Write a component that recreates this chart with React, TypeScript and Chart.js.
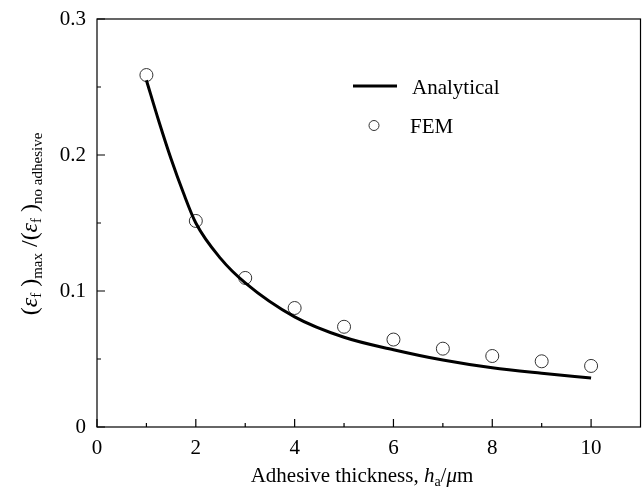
import React, { useEffect, useRef } from "react";
import { Chart, registerables } from "chart.js";

Chart.register(...registerables);

const analyticalX = [1, 1.25, 1.5, 1.75, 2, 2.5, 3, 4, 5, 6, 7, 8, 9, 10];
const analyticalY = [0.255, 0.225, 0.197, 0.172, 0.15, 0.124, 0.106, 0.081, 0.066, 0.0568, 0.0492, 0.0435, 0.0395, 0.036];
const femX = [1, 2, 3, 4, 5, 6, 7, 8, 9, 10];
const femY = [0.2588, 0.1515, 0.1096, 0.0875, 0.0737, 0.0643, 0.0576, 0.0522, 0.0483, 0.0449];
const xMajorTicks = [0, 2, 4, 6, 8, 10];
const xMinorTicks = [1, 3, 5, 7, 9];
const yMajorTicks = [0, 0.1, 0.2, 0.3];
const yMinorTicks = [0.05, 0.15, 0.25];
const legendLabels = ["Analytical", "FEM"];

const SERIF = "'Liberation Serif', 'DejaVu Serif', serif";

type Seg = { t: string; f: string; dy: number };

function drawRich(ctx: CanvasRenderingContext2D, segs: Seg[], x: number, y: number, center: boolean) {
  let total = 0;
  for (const s of segs) {
    ctx.font = s.f;
    total += ctx.measureText(s.t).width;
  }
  let cx = center ? x - total / 2 : x;
  for (const s of segs) {
    ctx.font = s.f;
    ctx.fillText(s.t, cx, y + s.dy);
    cx += ctx.measureText(s.t).width;
  }
}

const decorPlugin = {
  id: "decor",
  afterDraw(chart: any) {
    const ctx: CanvasRenderingContext2D = chart.ctx;
    const { left, right, top, bottom } = chart.chartArea;
    const xs = chart.scales.x;
    const ys = chart.scales.y;
    ctx.save();
    ctx.strokeStyle = "#000";
    ctx.fillStyle = "#000";
    ctx.lineWidth = 1.2;
    ctx.strokeRect(left, top, right - left, bottom - top);
    ctx.beginPath();
    for (const v of xMajorTicks) {
      const px = xs.getPixelForValue(v);
      ctx.moveTo(px, bottom);
      ctx.lineTo(px, bottom - 8);
    }
    for (const v of xMinorTicks) {
      const px = xs.getPixelForValue(v);
      ctx.moveTo(px, bottom);
      ctx.lineTo(px, bottom - 4);
    }
    for (const v of yMajorTicks) {
      const py = ys.getPixelForValue(v);
      ctx.moveTo(left, py);
      ctx.lineTo(left + 8, py);
    }
    for (const v of yMinorTicks) {
      const py = ys.getPixelForValue(v);
      ctx.moveTo(left, py);
      ctx.lineTo(left + 4, py);
    }
    ctx.stroke();

    // legend
    ctx.lineWidth = 3;
    ctx.beginPath();
    ctx.moveTo(353, 86);
    ctx.lineTo(397, 86);
    ctx.stroke();
    ctx.lineWidth = 1;
    ctx.strokeStyle = "#333";
    ctx.beginPath();
    ctx.arc(374, 125.5, 5, 0, Math.PI * 2);
    ctx.stroke();
    ctx.font = `21px ${SERIF}`;
    ctx.textBaseline = "alphabetic";
    ctx.textAlign = "left";
    ctx.fillText(legendLabels[0], 412, 93.5);
    ctx.fillText(legendLabels[1], 410, 133);

    // x title
    const xf = `21px ${SERIF}`;
    const xi = `italic 21px ${SERIF}`;
    const xsub = `14px ${SERIF}`;
    drawRich(
      ctx,
      [
        { t: "Adhesive thickness, ", f: xf, dy: 0 },
        { t: "h", f: xi, dy: 0 },
        { t: "a", f: xsub, dy: 4 },
        { t: "/", f: xf, dy: 0 },
        { t: "\u03bc", f: xi, dy: 0 },
        { t: "m", f: xf, dy: 0 },
      ],
      362,
      482,
      true
    );

    // y title
    const yf = `24px ${SERIF}`;
    const yi = `italic 24px ${SERIF}`;
    const ysub = `15px ${SERIF}`;
    ctx.translate(37, 224);
    ctx.rotate(-Math.PI / 2);
    drawRich(
      ctx,
      [
        { t: "(", f: yf, dy: 0 },
        { t: "\u03b5", f: yi, dy: 0 },
        { t: "f", f: ysub, dy: 4 },
        { t: " )", f: yf, dy: 0 },
        { t: "max", f: ysub, dy: 5 },
        { t: " /", f: yf, dy: 0 },
        { t: "(", f: yf, dy: 0 },
        { t: "\u03b5", f: yi, dy: 0 },
        { t: "f", f: ysub, dy: 4 },
        { t: " )", f: yf, dy: 0 },
        { t: "no adhesive", f: ysub, dy: 5 },
      ],
      0,
      0,
      true
    );
    ctx.restore();
  },
};

export default function App() {
  const ref = useRef<HTMLCanvasElement | null>(null);
  useEffect(() => {
    document.body.style.margin = "0";
    const canvas = ref.current;
    if (!canvas) return;
    const chart = new Chart(canvas, {
      type: "scatter",
      data: {
        datasets: [
          {
            type: "line",
            label: legendLabels[0],
            data: analyticalX.map((x, i) => ({ x, y: analyticalY[i] })),
            borderColor: "#000",
            borderWidth: 3,
            pointRadius: 0,
            fill: false,
            cubicInterpolationMode: "monotone",
          } as any,
          {
            type: "scatter",
            label: legendLabels[1],
            data: femX.map((x, i) => ({ x, y: femY[i] })),
            pointRadius: 6.5,
            pointStyle: "circle",
            backgroundColor: "rgba(255,255,255,0)",
            borderColor: "#333",
            pointBorderWidth: 1,
            borderWidth: 1,
          } as any,
        ],
      },
      options: {
        responsive: false,
        animation: false,
        devicePixelRatio: 1,
        layout: { autoPadding: false, padding: { top: 19, right: 1.5, left: 0, bottom: 0 } },
        plugins: { legend: { display: false }, tooltip: { enabled: false } },
        scales: {
          x: {
            type: "linear",
            min: 0,
            max: 11,
            grid: { display: false, drawTicks: false },
            border: { display: false },
            ticks: {
              stepSize: 2,
              color: "#000",
              padding: 9,
              font: { family: SERIF, size: 21 },
            },
            afterBuildTicks: (scale: any) => {
              scale.ticks = xMajorTicks.map((v) => ({ value: v }));
            },
            afterFit: (scale: any) => {
              scale.height = 62;
              scale.paddingLeft = 0;
              scale.paddingRight = 0;
            },
          },
          y: {
            type: "linear",
            min: 0,
            max: 0.3,
            grid: { display: false, drawTicks: false },
            border: { display: false },
            ticks: {
              stepSize: 0.1,
              color: "#000",
              padding: 11,
              font: { family: SERIF, size: 21 },
              callback: (v: any) => (Number(v) === 0 ? "0" : Number(v).toFixed(1)),
            },
            afterBuildTicks: (scale: any) => {
              scale.ticks = yMajorTicks.map((v) => ({ value: v }));
            },
            afterFit: (scale: any) => {
              scale.width = 97;
              scale.paddingTop = 0;
              scale.paddingBottom = 0;
            },
          },
        },
      },
      plugins: [decorPlugin],
    });
    return () => chart.destroy();
  }, []);
  return (
    <div style={{ width: 642, height: 489, background: "#fff" }}>
      <canvas ref={ref} width={642} height={489} style={{ display: "block", width: 642, height: 489 }} />
    </div>
  );
}
